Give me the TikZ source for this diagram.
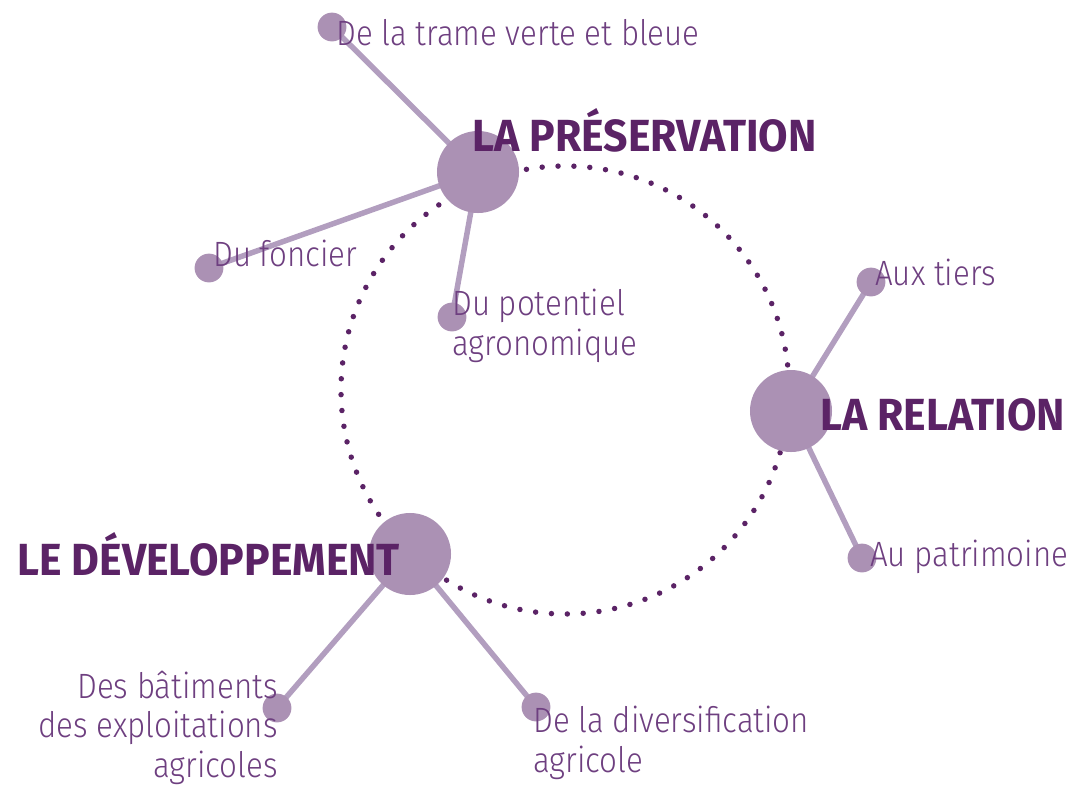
\documentclass[tikz,border=0pt]{standalone}
\usepackage{fontspec}
\setmainfont{Fira Sans}
\newfontfamily\lblfont{Fira Sans Light}[FakeStretch=0.89]
\newfontfamily\ttlfont{Fira Sans Bold}[FakeStretch=0.95]
\usepackage{tikz}
\usetikzlibrary{backgrounds}
\definecolor{lila}{HTML}{AB91B4}
\definecolor{lilac}{HTML}{B29EBF}
\definecolor{prune}{HTML}{5B2366}
\definecolor{mauve}{HTML}{6E3F80}

\begin{document}
\begin{tikzpicture}[x=0.025cm,y=-0.025cm,
  big/.style={circle,fill=lila,minimum size=2.05cm,inner sep=0},
  small/.style={circle,fill=lila,minimum size=0.72cm,inner sep=0},
  head/.style={font=\ttlfont\fontsize{32}{36}\selectfont,text=prune,inner sep=0,anchor=base west},
  lbl/.style={font=\lblfont\fontsize{25}{28}\selectfont,text=mauve,inner sep=0,anchor=base west,align=left},
  link/.style={draw=lilac,line width=3.9pt},
  dots/.style={draw=prune,line width=3.9pt,line cap=round,dash pattern=on 0pt off 11.3pt}]
\useasboundingbox (0,0) rectangle (1068,785);
% the three themes
\node[big] (pres) at (478,172) {};
\node[big] (rel) at (791,411) {};
\node[big] (dev) at (410,554) {};
% sub themes
\node[small] (trame) at (332,27) {};
\node[small] (foncier) at (209,268) {};
\node[small] (agro) at (452,317) {};
\node[small] (tiers) at (871,282) {};
\node[small] (patri) at (862,558) {};
\node[small] (bati) at (277,708) {};
\node[small] (diver) at (536,707) {};
\coordinate (ring) at (565,390);
\begin{pgfonlayer}{background}
\draw[dots] (ring) circle[radius=224];
\draw[link] (pres.center) -- (trame.center);
\draw[link] (pres.center) -- (foncier.center);
\draw[link] (pres.center) -- (agro.center);
\draw[link] (rel.center) -- (tiers.center);
\draw[link] (rel.center) -- (patri.center);
\draw[link] (dev.center) -- (bati.center);
\draw[link] (dev.center) -- (diver.center);
\end{pgfonlayer}
% titles
\node[head] (tpres) at (472,151) {LA PRÉSERVATION};
\node[head] (trel) at (820,430) {LA RELATION};
\node[head] (tdev) at (17,575) {LE DÉVELOPPEMENT};
% labels (multi-line ones sit on their last line)
\node[lbl] (ltrame) at (336,45) {De la trame verte et bleue};
\node[lbl] (lfoncier) at (213,266) {Du foncier};
\node[lbl] (lagro) at (452,355) {Du potentiel\\agronomique};
\node[lbl] (ltiers) at (875,285) {Aux tiers};
\node[lbl] (lpatri) at (870,566) {Au patrimoine};
\node[lbl] (ldiver) at (533,772) {De la diversification\\agricole};
\node[lbl,anchor=base east,align=right] (lbati) at (278,777) {Des bâtiments\\des exploitations\\agricoles};
\end{tikzpicture}
\end{document}
